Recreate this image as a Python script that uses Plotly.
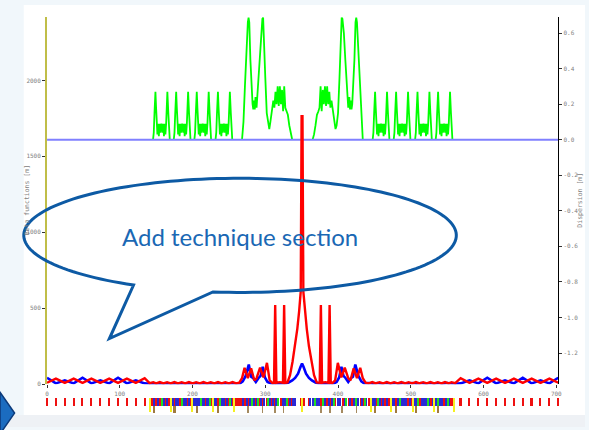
import numpy as np
import plotly.graph_objects as go

W, H = 589, 430

# ---------------- data ----------------
ring_length = 702.7

# horizontal beta (red)
s_betx = [0, 12.2, 24.4, 36.6, 48.8, 61, 73.2, 85.4, 97.6, 109.8, 122, 134.2, 141,
          146, 150, 155, 160, 165, 170, 175, 180, 185, 190, 195, 200, 205, 210, 215, 220,
          225, 230, 235, 240, 245, 250, 255, 260, 264,
          268, 271.5, 276, 280.5, 285, 288, 292.8, 297.5, 302.3, 306, 310,
          312, 313.6, 315.2, 319.8, 324.3, 325.9, 327.5,
          330.5, 334, 337.5, 341, 344, 346.5, 348.7, 349.9, 351.1, 352.3, 354.5, 357, 360,
          363.5, 367, 370.7,
          374.8, 376.4, 378, 382.5, 386.8, 388.4, 390,
          392, 396, 399.7, 404.5, 409.2, 414, 417, 421.5, 426, 430.5, 434,
          438, 442, 447, 452, 457, 462, 467, 472, 477, 482, 487, 492, 497, 502, 507, 512,
          517, 522, 527, 532, 537, 542, 547, 552, 556,
          561, 568.5, 580.7, 592.9, 605.1, 617.3, 629.5, 641.7, 653.9, 666.1, 678.3, 690.5, 702.7]
betx = [10, 37, 9, 37, 9, 37, 9, 37, 9, 37, 9, 40, 8,
        14, 6, 15, 6, 14, 6, 15, 6, 14, 6, 15, 6, 14, 6, 15, 6,
        14, 6, 15, 6, 14, 6, 15, 6, 10,
        40, 109, 40, 105, 25, 40, 109, 45, 141, 25, 8,
        10, 521, 10, 14, 10, 521, 10,
        12, 60, 150, 250, 365, 480, 610, 1765, 1765, 610, 480, 365, 250,
        150, 60, 12,
        10, 521, 10, 14, 10, 521, 10,
        8, 25, 141, 45, 109, 40, 25, 105, 40, 109, 40,
        10, 6, 15, 6, 14, 6, 15, 6, 14, 6, 15, 6, 14, 6, 15, 6,
        14, 6, 15, 6, 14, 6, 15, 6, 14,
        8, 40, 9, 37, 9, 37, 9, 37, 9, 37, 9, 37, 10]

# vertical beta (blue)
s_bety = [0, 12.2, 24.4, 36.6, 48.8, 61, 73.2, 85.4, 97.6, 109.8, 122, 134.2, 141,
          146, 152, 158, 164, 170, 176, 182, 188, 194, 200, 206, 212, 218, 224, 230, 236,
          242, 248, 254, 260,
          265, 269, 273, 277.3, 280.5, 283.5, 287, 290.5, 293.5, 296.4, 299.5, 303, 308,
          312, 320, 328,
          332, 337, 341, 345, 348.5, 350.5, 352.5, 356, 360, 364, 369,
          373, 382, 390,
          394, 398, 401.5, 404.6, 407.5, 410.5, 414, 417.5, 420.5, 423.7, 428, 432, 436,
          442, 448, 454, 460, 466, 472, 478, 484, 490, 496, 502, 508, 514, 520, 526, 532,
          538, 544, 550, 556,
          561, 568.5, 580.7, 592.9, 605.1, 617.3, 629.5, 641.7, 653.9, 666.1, 678.3, 690.5, 702.7]
bety = [43, 6, 26, 6, 43, 6, 26, 6, 43, 6, 26, 6, 4,
        4, 8, 4, 8, 4, 8, 4, 8, 4, 8, 4, 8, 4, 8, 4, 8,
        4, 8, 4, 8,
        6, 20, 55, 130, 50, 40, 15, 40, 55, 115, 45, 15, 5,
        4, 4, 6,
        12, 25, 42, 70, 115, 137, 115, 70, 42, 25, 12,
        6, 4, 4,
        5, 15, 45, 115, 55, 40, 15, 40, 50, 130, 55, 20, 6,
        8, 4, 8, 4, 8, 4, 8, 4, 8, 4, 8, 4, 8, 4, 8, 4,
        8, 4, 8, 4,
        4, 6, 26, 6, 43, 6, 26, 6, 43, 6, 26, 6, 43]

# dispersion (green): one arc cell profile, cell positions, and the central section
cell_ds = [0, 1, 2, 3.3, 4.2, 5, 6, 7, 8, 9, 10, 11.5, 13, 14, 15, 16, 17, 18, 18.8, 19.7, 21, 22, 23]
cell_disp = [0, 0.04, 0.15, 0.27, 0.18, 0.09, 0.03, 0.09, 0.02, 0.09, 0.04, 0.09, 0.04, 0.09,
             0.02, 0.09, 0.03, 0.09, 0.18, 0.27, 0.15, 0.04, 0]
left_cell_starts = [145.7, 174.2, 202.5, 231.6]
right_cell_starts = [447.6, 476.5, 505.9, 534.2]
s_disp_mid_a = [268, 270, 272, 274, 276, 277, 278, 279.5, 281, 282.5, 283.5, 284.5, 285.5,
                286.5, 288, 290, 292, 294, 296, 297, 298, 300, 302, 304, 305.5, 307, 309, 311,
                312.5, 314, 315.5, 317, 318.5, 320, 321.5, 323, 324.5, 326, 327.5, 329, 331,
                333, 335, 337]
disp_mid_a = [0, 0.1, 0.3, 0.5, 0.66, 0.687, 0.66, 0.45, 0.3, 0.2, 0.17, 0.22, 0.17,
              0.24, 0.18, 0.3, 0.45, 0.6, 0.68, 0.687, 0.6, 0.35, 0.15, 0.08, 0.06, 0.1, 0.16, 0.22,
              0.18, 0.27, 0.2, 0.3, 0.19, 0.3, 0.2, 0.28, 0.16, 0.3, 0.18, 0.16, 0.14,
              0.08, 0.03, 0]
s_disp_mid_b = [365, 367, 369, 371, 373, 374.5, 376, 377.5, 379, 380.5, 382, 383.5, 385, 386.5,
                388, 389.5, 391, 393, 395, 396.5, 398, 400, 402, 404, 405, 406, 408, 410, 412,
                414, 415.5, 416.5, 417.5, 418.5, 419.5, 421, 422.5, 424, 425, 426, 428, 430,
                432, 434]
disp_mid_b = [0, 0.03, 0.08, 0.14, 0.16, 0.18, 0.3, 0.16, 0.28, 0.2, 0.3, 0.19, 0.3, 0.2,
              0.27, 0.18, 0.22, 0.16, 0.1, 0.06, 0.08, 0.15, 0.35, 0.6, 0.687, 0.68, 0.6, 0.45, 0.3,
              0.18, 0.24, 0.17, 0.22, 0.17, 0.2, 0.3, 0.45, 0.66, 0.687, 0.66, 0.5, 0.3,
              0.1, 0]

# axis ticks
x_ticks = [0, 100, 200, 300, 400, 500, 600, 700]
beta_ticks = [0, 500, 1000, 1500, 2000]
disp_ticks = [-1.2, -1.0, -0.8, -0.6, -0.4, -0.2, 0.0, 0.2, 0.4, 0.6]
disp_ticktext = ["-1.2", "-1.0", "-0.8", "-0.6", "-0.4", "-0.2", "0.0", "0.2", "0.4", "0.6"]

# lattice strip
arc_quads = [0, 12.2, 24.4, 36.6, 48.8, 61, 73.2, 85.4, 97.6, 109.8, 122, 134.2,
             568.5, 580.7, 592.9, 605.1, 617.3, 629.5, 641.7, 653.9, 666.1, 678.3, 690.5, 702.7]
strip_start = 142.0
strip_step = 1.5
strip_code = ("RRRBRRBRRRGRBRRBRRR" "RBRRBRBRRGRBRBRRBRR" "RBRBBRBRGRBBRBRBGRR"
              "RBRBRRGRBRBRRBRGBRR" "RRRRRRRR"
              "BRR.B.RB.GBR.BGR.B.RB.RG.B.RB.RBG..R.BRB.GRB.RB.B.."
              ".." "RRRR" ".."
              "..RB.BRG.B.BR.RGB.R.BR.B.GR.BRB..R.BG.RB.R.BRG.B.RBR.GB.."
              "RRRBRBRRGRBRRBRRBRR" "RBRBBRRBRGRBRBRBRRB" "RRBRBRBGRRBRBRBRGBR"
              "RBRRBRGRBRBRRBRGBRR" "RR")
yellow_marks = [141, 170, 199, 228, 256.5, 350.8, 445, 473, 502.7, 531.3, 559.5]
brown_thick = [146.7, 175, 205.7, 235, 450.6, 479, 507.2, 536.7]
brown_thin = [276, 296, 313, 325, 376.6, 388.4, 405, 425]

# ---------------- build ----------------
# dispersion is zero (hidden under the zero line) outside these segments
s_disp, disp = [], []
segments = [([st + d for d in cell_ds], cell_disp) for st in left_cell_starts]
segments += [(s_disp_mid_a, disp_mid_a), (s_disp_mid_b, disp_mid_b)]
segments += [([st + d for d in cell_ds], cell_disp) for st in right_cell_starts]
for ss, dd in segments:
    s_disp += list(ss) + [None]
    disp += list(dd) + [None]

def px(x):
    return x / W

def py(y):
    return 1 - y / H

# plot area in pixels
X0, X1 = 45.5, 562.0
Y0, Y1 = 17.0, 387.0
ppm = (X1 - X0) / ring_length

fig = go.Figure()

fig.add_trace(go.Scatter(x=s_disp, y=disp, mode="lines", line=dict(color="#00ff00", width=1.8),
                         connectgaps=False, xaxis="x", yaxis="y", showlegend=False))
fig.add_trace(go.Scatter(x=[0, ring_length], y=[0, 0], mode="lines",
                         line=dict(color="#8080ff", width=2), xaxis="x", yaxis="y", showlegend=False))
fig.add_trace(go.Scatter(x=s_bety, y=bety, mode="lines", line=dict(color="#0000ff", width=2.6),
                         xaxis="x", yaxis="y2", showlegend=False))
fig.add_trace(go.Scatter(x=s_betx, y=betx, mode="lines", line=dict(color="#ff0000", width=2.4),
                         xaxis="x", yaxis="y2", showlegend=False))

# lattice strip bars
colmap = {"R": "#ee1111", "B": "#2a2ad6", "G": "#22dd22"}
groups = {"R": [], "B": [], "G": []}
for i, c in enumerate(strip_code):
    if c in groups:
        groups[c].append(strip_start + (i + 0.5) * strip_step)

def add_bars(xs, base, height, width, color):
    fig.add_trace(go.Bar(x=xs, y=[height] * len(xs), base=base, width=width,
                         marker=dict(color=color, line=dict(width=0)),
                         xaxis="x2", yaxis="y3", showlegend=False))

add_bars(arc_quads, 7.5, 8.5, 2.2, "#ee1111")
for c in ["R", "B", "G"]:
    add_bars(groups[c], 7.5, 8.5, strip_step, colmap[c])
add_bars(yellow_marks, 1.5, 14.5, 1.3, "#f5f020")
add_bars(brown_thick, 1.0, 6.5, 3.0, "#a07a40")
add_bars(brown_thin, 1.0, 6.5, 1.0, "#a58a60")

tickfont = dict(family="DejaVu Sans Mono", size=6, color="#808080")

shapes = []
# page decorations
shapes.append(dict(type="rect", xref="paper", yref="paper", x0=px(22), x1=1.0, y0=py(418), y1=py(5),
                   fillcolor="white", line=dict(width=0), layer="below"))
shapes.append(dict(type="rect", xref="paper", yref="paper", x0=0, x1=1.0, y0=0, y1=py(418),
                   fillcolor="#eef1f5", line=dict(width=0), layer="below"))
# speech bubble
cx, cy, rx, ry = 240.5, 237.0, 218.5, 57.5
th = np.radians(np.linspace(97.2, 119.5 - 360, 160))
pts = [(cx + rx * np.cos(t), cy + ry * np.sin(t)) for t in th]
path = "M " + " L ".join(f"{px(a):.5f},{py(b):.5f}" for a, b in pts)
path += f" L {px(108.5):.5f},{py(341):.5f} Z"
shapes.append(dict(type="path", xref="paper", yref="paper", path=path,
                   line=dict(color="#0d5aa4", width=3), fillcolor="rgba(0,0,0,0)"))
# chevron
shapes.append(dict(type="path", xref="paper", yref="paper",
                   path=f"M {px(-2)},{py(395)} L {px(12.7)},{py(416)} L {px(-2)},{py(437)} Z",
                   fillcolor="#1b6cc0", line=dict(color="#0c3a7a", width=1.5)))

annotations = [
    dict(text="Add technique section", x=px(240), y=py(238), xref="paper", yref="paper",
         xanchor="center", yanchor="middle",
         showarrow=False, font=dict(family="Lato", size=24, color="#1a68b4")),
    dict(text="Beta functions [m]", x=px(25), y=py(202), xref="paper", yref="paper",
         xanchor="center", yanchor="middle",
         textangle=-90, showarrow=False, font=dict(family="DejaVu Sans Mono", size=6.5, color="#808080")),
    dict(text="Dispersion [m]", x=px(584), y=py(202), xref="paper", yref="paper",
         xanchor="center", yanchor="middle",
         textangle=-90, showarrow=False, font=dict(family="DejaVu Sans Mono", size=6.5, color="#808080")),
]

pad = 3.0
fig.update_layout(
    width=W, height=H, margin=dict(l=0, r=0, t=0, b=0),
    paper_bgcolor="#f1f7fb", plot_bgcolor="rgba(0,0,0,0)",
    barmode="overlay", bargap=0, showlegend=False,
    xaxis=dict(domain=[px(X0), px(X1)], range=[0, ring_length], anchor="y",
               tickvals=x_ticks, ticks="outside", ticklen=3, tickcolor="#333333",
               tickfont=tickfont, showgrid=False, zeroline=False, showline=False),
    yaxis=dict(domain=[py(Y1), py(Y0)], range=[-1.376, 0.691], side="right", anchor="x",
               tickvals=disp_ticks, ticktext=disp_ticktext, ticks="outside", ticklen=3,
               tickcolor="#333333", tickfont=tickfont, showgrid=False, zeroline=False,
               showline=True, linecolor="#000000", linewidth=1),
    yaxis2=dict(range=[0, 2418], overlaying="y", side="left", anchor="x",
                tickvals=beta_ticks, ticks="outside", ticklen=3, tickcolor="#333333",
                tickfont=tickfont, showgrid=False, zeroline=False,
                showline=True, linecolor="#c0be48", linewidth=2),
    xaxis2=dict(domain=[px(X0 - pad * ppm), px(X1 + pad * ppm)], range=[-pad, ring_length + pad],
                anchor="y3", visible=False),
    yaxis3=dict(domain=[py(417), py(399)], range=[0, 18], anchor="x2", visible=False),
    shapes=shapes, annotations=annotations,
)

fig.write_html("out.html")
